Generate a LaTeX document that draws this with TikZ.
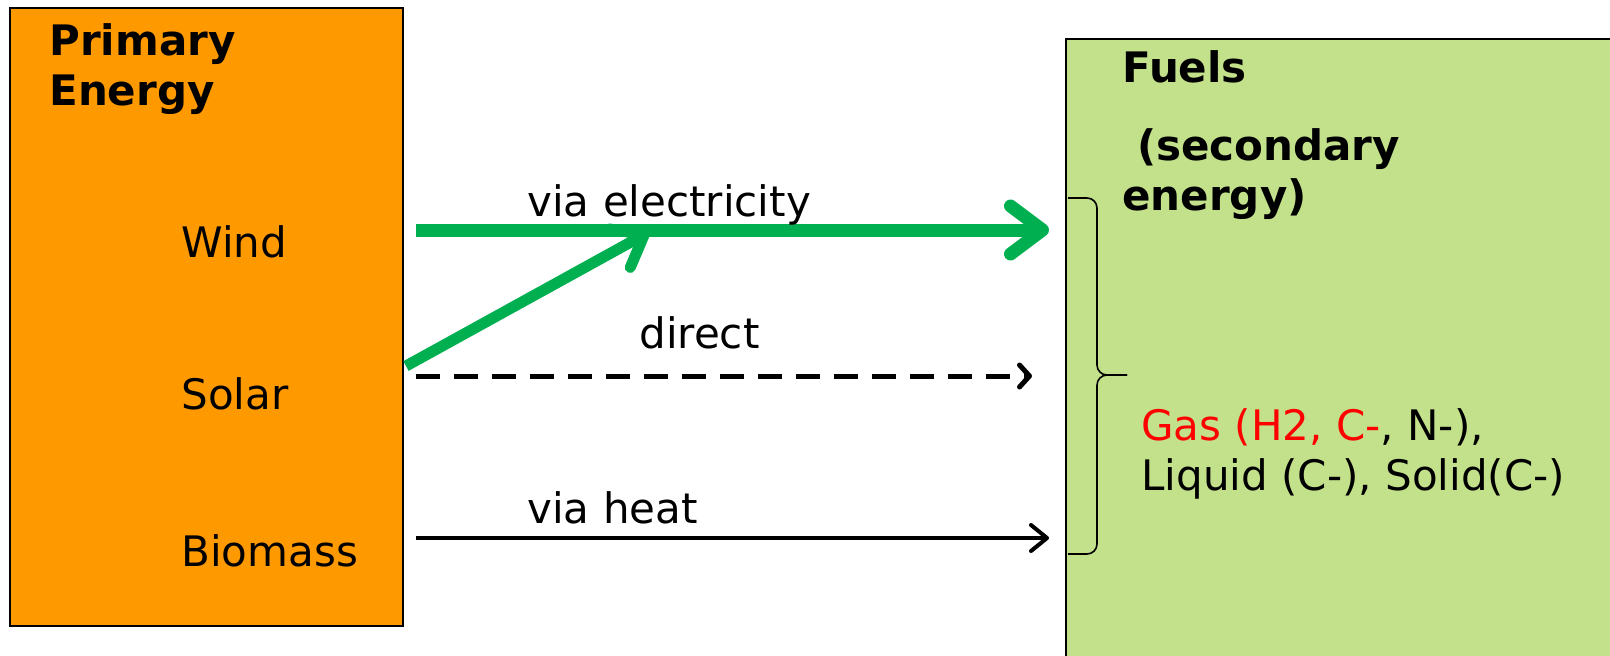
\documentclass[tikz,border=0pt]{standalone}
\usepackage{fontspec}
\setmainfont{DejaVu Sans}
\usetikzlibrary{arrows.meta}
\definecolor{primorange}{RGB}{255,153,0}
\definecolor{fuelgreen}{RGB}{195,224,138}
\definecolor{flowgreen}{RGB}{0,176,80}
\definecolor{gasred}{RGB}{255,0,0}
\begin{document}
\begin{tikzpicture}[x=0.5pt,y=-0.5pt,
    txt/.style={anchor=base west,inner sep=0pt,font=\fontsize{21}{25}\selectfont},
    head/.style={txt,font=\fontsize{21}{25}\selectfont\bfseries,align=left},
    box/.style={draw=black,line width=1pt},
    elec/.style={flowgreen,line width=6.5pt,-{Straight Barb[round,length=16pt,width=24pt]}},
    direct/.style={black,line width=2.5pt,dash pattern=on 12pt off 7pt,-{Straight Barb[round,length=5pt,width=11pt]}},
    heat/.style={black,line width=2pt,-{Straight Barb[round,length=8pt,width=13pt]}},
    brace/.style={black,line width=0.8pt,rounded corners=5pt}]
  \useasboundingbox (0,0) rectangle (1610,655);
  \clip (0,0) rectangle (1610,655);

  % boxes
  \draw[box,fill=primorange] (10,8) rectangle (403,626);
  \draw[box,fill=fuelgreen] (1066,39) rectangle (1650,700);

  % primary energy side
  \node[head] (primary) at (49,105) {Primary\\Energy};
  \foreach \src/\y in {Wind/257,Solar/409,Biomass/566} {
    \node[txt] (\src) at (181,\y) {\src};
  }

  % fuels side
  \node[head] (fuels) at (1122,82) {Fuels};
  \node[head] (secondary) at (1122,210) {~(secondary\\energy)};
  \node[txt,align=left] (kinds) at (1141,490)
    {\textcolor{gasred}{Gas (H2, C-}, N-),\\Liquid (C-), Solid(C-)};

  % flows
  \coordinate (windout) at (416,230);
  \coordinate (windin) at (1049,230);
  \coordinate (solarup) at (406,366);
  \coordinate (merge) at (649,232);
  \coordinate (solarout) at (416,376);
  \coordinate (solarin) at (1032,376);
  \coordinate (bioout) at (416,538);
  \coordinate (bioin) at (1049,538);

  \draw[elec] (windout) -- (windin);
  \draw[elec,line width=5.5pt,-{Straight Barb[round,length=14pt,width=22pt]}] (solarup) -- (merge);
  \draw[direct] (solarout) -- (solarin);
  \draw[heat] (bioout) -- (bioin);

  \node[txt] (elabel) at (527,216) {via electricity};
  \node[txt] (dlabel) at (639,348) {direct};
  \node[txt] (hlabel) at (527,523) {via heat};

  % brace
  \coordinate (bracetop) at (1068,198);
  \coordinate (bracebot) at (1068,554);
  \coordinate (bracetip) at (1127,375);
  \draw[brace] (bracetop) -- (1097,198) -- (1097,375) -- (bracetip);
  \draw[brace] (bracebot) -- (1097,554) -- (1097,375) -- (bracetip);
\end{tikzpicture}
\end{document}
